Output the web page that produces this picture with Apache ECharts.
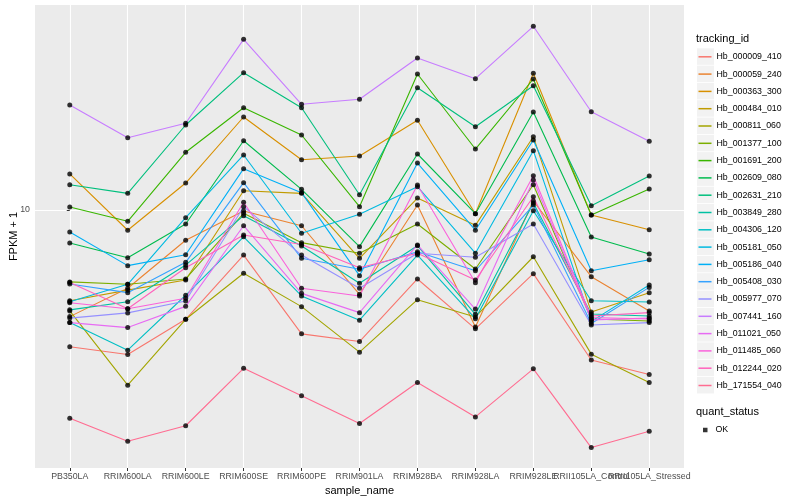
<!DOCTYPE html>
<html><head><meta charset="utf-8">
<script src="https://cdn.jsdelivr.net/npm/echarts@6/dist/echarts.min.js"></script>
<style>html,body{margin:0;padding:0;background:#fff}#c{width:800px;height:500px}</style>
</head><body><div id="c"></div>
<script>
const categories = ["PB350LA","RRIM600LA","RRIM600LE","RRIM600SE","RRIM600PE","RRIM901LA","RRIM928BA","RRIM928LA","RRIM928LE","RRII105LA_Control","RRII105LA_Stressed"];
const trackingIds = ["Hb_000009_410","Hb_000059_240","Hb_000363_300","Hb_000484_010","Hb_000811_060","Hb_001377_100","Hb_001691_200","Hb_002609_080","Hb_002631_210","Hb_003849_280","Hb_004306_120","Hb_005181_050","Hb_005186_040","Hb_005408_030","Hb_005977_070","Hb_007441_160","Hb_011021_050","Hb_011485_060","Hb_012244_020","Hb_171554_040"];
const seriesColors = ["#F8766D","#EA8331","#D89000","#C09B00","#A3A500","#7CAE00","#39B600","#00BB4E","#00BF7D","#00C1A3","#00BFC4","#00BAE0","#00B0F6","#35A2FF","#9590FF","#C77CFF","#E76BF3","#FA62DB","#FF62BC","#FF6C91"];

// FPKM + 1 per sample, one array per tracking_id
const Hb_000009_410 = [2.98, 2.78, 3.80, 6.71, 3.34, 3.12, 5.43, 3.49, 5.69, 2.65, 2.33];
const Hb_000059_240 = [3.89, 5.00, 7.65, 9.91, 8.70, 4.74, 10.45, 3.55, 10.83, 5.54, 4.09];
const Hb_000363_300 = [13.76, 8.36, 12.70, 22.79, 15.61, 16.13, 22.13, 9.68, 33.55, 9.57, 8.40];
const Hb_000484_010 = [4.48, 4.92, 5.38, 11.86, 11.59, 6.52, 11.12, 8.73, 19.14, 4.05, 4.81];
const Hb_000811_060 = [4.09, 2.12, 3.80, 5.71, 4.25, 2.84, 4.52, 3.88, 6.61, 2.79, 2.17];
const Hb_001377_100 = [5.29, 5.18, 5.43, 9.71, 7.49, 6.82, 8.83, 5.93, 12.51, 3.81, 3.74];
const Hb_001691_200 = [10.27, 9.05, 16.67, 24.74, 19.43, 10.30, 33.35, 17.16, 31.90, 9.57, 12.04];
const Hb_002609_080 = [7.47, 6.55, 8.83, 18.47, 12.01, 7.23, 16.42, 9.68, 23.82, 7.87, 6.77];
const Hb_002631_210 = [12.51, 11.59, 21.23, 33.74, 24.74, 11.45, 29.54, 20.91, 30.07, 10.39, 13.51];
const Hb_003849_280 = [4.13, 4.44, 6.14, 9.51, 7.27, 5.23, 7.29, 3.97, 10.64, 3.98, 3.91];
const Hb_004306_120 = [3.69, 2.89, 4.70, 7.89, 4.67, 3.77, 6.71, 3.82, 9.94, 4.48, 4.43];
const Hb_005181_050 = [4.44, 5.18, 9.34, 16.28, 8.14, 9.63, 12.29, 6.82, 16.91, 3.73, 5.15];
const Hb_005186_040 = [8.23, 6.11, 6.73, 14.42, 11.66, 5.59, 15.16, 8.36, 18.59, 5.84, 6.44];
const Hb_005408_030 = [5.19, 4.81, 6.29, 12.74, 6.52, 5.92, 6.91, 5.84, 10.45, 3.66, 5.04];
const Hb_005977_070 = [3.84, 4.02, 4.47, 10.30, 6.71, 5.00, 6.82, 6.58, 8.83, 3.61, 3.69];
const Hb_007441_160 = [25.34, 18.97, 21.55, 45.34, 25.50, 26.65, 38.43, 31.99, 50.88, 23.88, 18.38];
const Hb_011021_050 = [3.69, 3.53, 4.26, 8.70, 4.78, 4.03, 7.34, 4.16, 13.04, 3.78, 3.84];
const Hb_011485_060 = [4.40, 4.17, 4.58, 10.71, 5.00, 4.67, 12.48, 5.25, 13.55, 3.86, 3.81];
const Hb_012244_020 = [5.26, 4.17, 6.00, 8.01, 7.37, 6.00, 6.82, 5.38, 11.25, 3.91, 4.03];
const Hb_171554_040 = [1.58, 1.29, 1.48, 2.46, 1.93, 1.51, 2.17, 1.60, 2.45, 1.22, 1.41];

const seriesValues = [Hb_000009_410, Hb_000059_240, Hb_000363_300, Hb_000484_010, Hb_000811_060, Hb_001377_100, Hb_001691_200, Hb_002609_080, Hb_002631_210, Hb_003849_280, Hb_004306_120, Hb_005181_050, Hb_005186_040, Hb_005408_030, Hb_005977_070, Hb_007441_160, Hb_011021_050, Hb_011485_060, Hb_012244_020, Hb_171554_040];

const yTickValues = [10];
const yMin = 1.018, yMax = 61.44;
const xMin = -0.6, xMax = 10.6;

const FONT = '"Liberation Sans", Arial, sans-serif';
const catIdx = categories.map((c, i) => i);
// an extra blank label at the right edge absorbs ECharts' max-label overlap check
const xLabelValues = catIdx.concat([xMax]);

const lineSeries = trackingIds.map((id, k) => ({
  name: id,
  type: 'line',
  color: seriesColors[k],
  showSymbol: false,
  symbol: 'none',
  lineStyle: { width: 1.1, color: seriesColors[k] },
  emphasis: { disabled: true },
  data: seriesValues[k].map((v, j) => [j, v])
}));

const pointData = [];
seriesValues.forEach(arr => arr.forEach((v, j) => pointData.push([j, v])));

const chart = echarts.init(document.getElementById('c'), null, { renderer: 'canvas' });
chart.setOption({
  animation: false,
  backgroundColor: '#fff',
  textStyle: { fontFamily: FONT },
  title: [
    { text: 'tracking_id', left: 696, top: 33, padding: 0, textStyle: { fontSize: 11, fontWeight: 'normal', color: '#000', fontFamily: FONT } },
    { text: 'quant_status', left: 696, top: 406, padding: 0, textStyle: { fontSize: 11, fontWeight: 'normal', color: '#000', fontFamily: FONT } }
  ],
  grid: { left: 35, right: 116, top: 5, bottom: 32, show: true, backgroundColor: '#EBEBEB', borderWidth: 0, containLabel: false, outerBoundsMode: 'none' },
  xAxis: {
    type: 'value', min: xMin, max: xMax,
    name: 'sample_name', nameLocation: 'middle', nameGap: 14.5,
    nameTextStyle: { color: '#000', fontSize: 11, fontFamily: FONT },
    axisLine: { show: false },
    axisTick: { show: true, length: 3, lineStyle: { color: '#333', width: 1 }, customValues: catIdx },
    axisLabel: { customValues: xLabelValues, formatter: v => (Number.isInteger(v) ? categories[v] : ' '), color: '#4D4D4D', fontSize: 8.8, margin: 4, fontFamily: FONT, hideOverlap: false, showMinLabel: true, showMaxLabel: false },
    splitLine: { show: true, lineStyle: { color: '#FFFFFF', width: 1.1 } }
  },
  yAxis: {
    type: 'log', logBase: 10, min: yMin, max: yMax,
    name: 'FPKM + 1', nameLocation: 'middle', nameGap: 15.5, nameRotate: 90, nameMoveOverlap: false,
    nameTextStyle: { color: '#000', fontSize: 11, fontFamily: FONT },
    axisLine: { show: false },
    axisTick: { show: true, length: 3, lineStyle: { color: '#333', width: 1 }, customValues: yTickValues },
    axisLabel: { customValues: yTickValues, color: '#4D4D4D', fontSize: 8.8, margin: 5, fontFamily: FONT },
    splitLine: { show: true, lineStyle: { color: '#FFFFFF', width: 1.1 } },
    minorSplitLine: { show: false }
  },
  legend: [
    {
      data: trackingIds, orient: 'vertical', left: 697, top: 48.3, padding: 0,
      itemWidth: 17, itemHeight: 16.5, itemGap: 0.8, icon: 'rect',
      itemStyle: { color: '#F2F2F2', borderWidth: 0 },
      formatter: () => '', textStyle: { fontSize: 1 }, selectedMode: false
    },
    {
      data: trackingIds, orient: 'vertical', left: 698.5, top: 48.3, padding: 0,
      itemWidth: 13, itemHeight: 1.5, itemGap: 0.3, icon: 'rect',
      textStyle: { fontSize: 8.8, lineHeight: 17, color: '#000', fontFamily: FONT },
      selectedMode: false
    },
    {
      data: ['OK'], orient: 'vertical', left: 703, top: 425, padding: 0,
      itemWidth: 4.5, itemHeight: 4.5, icon: 'rect',
      textStyle: { fontSize: 8.8, lineHeight: 10, color: '#000', fontFamily: FONT, padding: [0, 0, 0, 3] },
      selectedMode: false
    }
  ],
  series: lineSeries.concat([{
    name: 'OK', type: 'scatter', symbol: 'circle', symbolSize: 5,
    itemStyle: { color: '#000' }, emphasis: { disabled: true },
    data: pointData, z: 5
  }])
});
</script>
</body></html>
